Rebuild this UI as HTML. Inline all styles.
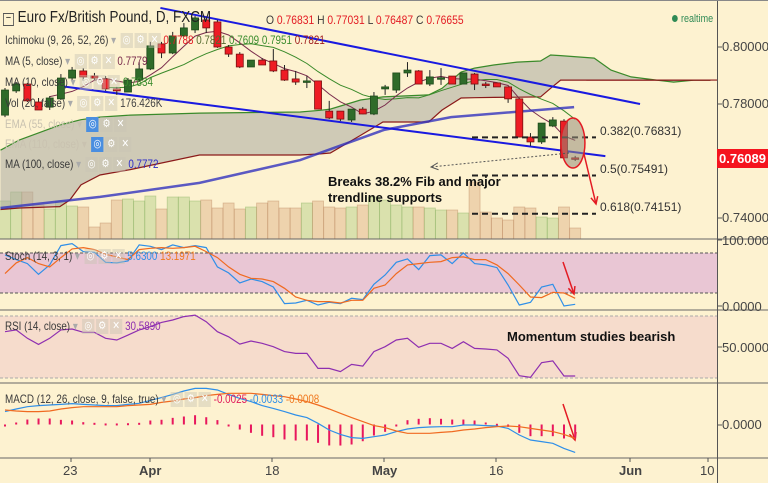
<!DOCTYPE html>
<html><head><meta charset="utf-8">
<style>
html,body{margin:0;padding:0;background:#fdf2d0;}
#wrap{position:relative;width:768px;height:483px;overflow:hidden;background:#fdf2d0;font-family:"Liberation Sans",sans-serif;}
svg{position:absolute;left:0;top:0;}
.lg{position:absolute;font-size:12px;color:#3a3a3a;white-space:nowrap;line-height:14px;transform:scaleX(0.82);transform-origin:0 0;}
.ic{display:inline-block;width:15px;height:15px;background:rgba(200,195,180,0.45);color:#fff;font-size:11px;text-align:center;line-height:15px;margin-left:2px;vertical-align:middle;}
.icb{background:#4a8ee0;}
.fade{color:#c9c2b0;}
.ax{position:absolute;font-size:13px;color:#444;}
.nt{transform:none;}
</style></head><body>
<div id="wrap">
<svg id="svg" width="768" height="483"></svg>

<div class="lg" style="left:3px;top:11px;font-size:16px;color:#222;transform:scaleX(0.84);"><span style="display:inline-block;width:11px;height:11px;border:1px solid #555;font-size:11px;line-height:9px;text-align:center;vertical-align:1px;">−</span> Euro Fx/British Pound, D, FXCM</div>
<div class="lg" style="left:266px;top:13px;font-size:12px;transform:scaleX(0.86);">O <span style="color:#e31b23">0.76831</span> H <span style="color:#e31b23">0.77031</span> L <span style="color:#e31b23">0.76487</span> C <span style="color:#e31b23">0.76655</span></div>
<div class="lg" style="left:672px;top:12px;font-size:11px;color:#2f8a55;"><span style="display:inline-block;width:7px;height:7px;border-radius:4px;background:#2f8a55;margin-right:4px;"></span>realtime</div>

<div class="lg" style="left:5px;top:33px;">Ichimoku (9, 26, 52, 26) <span style="color:#aaa">▾</span> <span class="ic">◎</span><span class="ic">⚙</span><span class="ic">✕</span> <span style="color:#e31b23">0.7788</span> <span style="color:#556b2f">0.7821</span> <span style="color:#3c8d2f">0.7609</span> <span style="color:#3c8d2f">0.7951</span> <span style="color:#a01c1c">0.7821</span></div>
<div class="lg" style="left:5px;top:54px;">MA (5, close) <span style="color:#aaa">▾</span> <span class="ic">◎</span><span class="ic">⚙</span><span class="ic">✕</span> <span style="color:#7a2c4c">0.7779</span></div>
<div class="lg" style="left:5px;top:75px;">MA (10, close) <span style="color:#aaa">▾</span> <span class="ic">◎</span><span class="ic">⚙</span><span class="ic">✕</span> <span style="color:#3c8d2f">0.7834</span></div>
<div class="lg" style="left:5px;top:96px;">Vol (20, false) <span style="color:#aaa">▾</span> <span class="ic">◎</span><span class="ic">⚙</span><span class="ic">✕</span> <span style="color:#444">176.426K</span></div>
<div class="lg fade" style="left:5px;top:117px;">EMA (55, close) ▾ <span class="ic icb">◎</span><span class="ic">⚙</span><span class="ic">✕</span></div>
<div class="lg fade" style="left:5px;top:137px;">EMA (110, close) ▾ <span class="ic icb">◎</span><span class="ic">⚙</span><span class="ic">✕</span></div>
<div class="lg" style="left:5px;top:157px;">MA (100, close) <span style="color:#aaa">▾</span> <span class="ic">◎</span><span class="ic">⚙</span><span class="ic">✕</span> <span style="color:#2b2bc8">0.7772</span></div>

<div class="lg" style="left:5px;top:249px;">Stoch (14, 3, 1) <span style="color:#aaa">▾</span> <span class="ic">◎</span><span class="ic">⚙</span><span class="ic">✕</span> <span style="color:#2f8fe8">5.6300</span> <span style="color:#f07a20">13.1971</span></div>
<div class="lg" style="left:5px;top:319px;">RSI (14, close) <span style="color:#aaa">▾</span> <span class="ic">◎</span><span class="ic">⚙</span><span class="ic">✕</span> <span style="color:#8e2fb0">30.5890</span></div>
<div class="lg" style="left:5px;top:392px;">MACD (12, 26, close, 9, false, true) <span style="color:#aaa">▾</span> <span class="ic">◎</span><span class="ic">⚙</span><span class="ic">✕</span> <span style="color:#e0195a">-0.0025</span> <span style="color:#2f8fe8">-0.0033</span> <span style="color:#f07a20">-0.0008</span></div>

<div class="lg nt" style="left:328px;top:174px;font-size:13px;font-weight:bold;color:#111;line-height:16px;">Breaks 38.2% Fib and major<br>trendline supports</div>
<div class="lg nt" style="left:507px;top:330px;font-size:13px;font-weight:bold;color:#111;">Momentum studies bearish</div>

<div class="lg nt" style="left:600px;top:124px;font-size:12px;color:#333;">0.382(0.76831)</div>
<div class="lg nt" style="left:600px;top:162px;font-size:12px;color:#333;">0.5(0.75491)</div>
<div class="lg nt" style="left:600px;top:200px;font-size:12px;color:#333;">0.618(0.74151)</div>

<div class="ax" style="left:722px;top:39px;">0.80000</div>
<div class="ax" style="left:722px;top:96px;">0.78000</div>
<div class="ax" style="left:722px;top:210px;">0.74000</div>
<div class="ax" style="left:717px;top:149px;width:51px;height:19px;background:#f5141e;color:#fff;font-weight:bold;line-height:19px;text-align:center;font-size:13px;">0.76089</div>
<div class="ax" style="left:722px;top:233px;">100.0000</div>
<div class="ax" style="left:722px;top:299px;">0.0000</div>
<div class="ax" style="left:722px;top:340px;">50.0000</div>
<div class="ax" style="left:722px;top:417px;">0.0000</div>

<div class="ax" style="left:63px;top:463px;">23</div>
<div class="ax" style="left:139px;top:463px;font-weight:bold;">Apr</div>
<div class="ax" style="left:265px;top:463px;">18</div>
<div class="ax" style="left:372px;top:463px;font-weight:bold;">May</div>
<div class="ax" style="left:489px;top:463px;">16</div>
<div class="ax" style="left:619px;top:463px;font-weight:bold;">Jun</div>
<div class="ax" style="left:700px;top:463px;">10</div>
</div>

<script>
// ---- data ----
const opens  = [.7761,.7846,.7870,.7807,.7789,.7818,.7891,.7916,.7898,.7888,.7853,.7842,.7884,.7923,.8011,.7979,.8039,.8060,.8095,.8088,.8000,.7975,.7930,.7954,.7951,.7919,.7888,.7877,.7881,.7775,.7775,.7744,.7782,.7765,.7853,.7849,.7909,.7916,.7870,.7891,.7898,.7870,.7905,.7870,.7874,.7860,.7818,.7684,.7667,.7723,.7740,.7611];
const highs  = [.7856,.7877,.7874,.7821,.7828,.7905,.7930,.7926,.7909,.7898,.7860,.7891,.7947,.8018,.8018,.8053,.8084,.8109,.8102,.8095,.8007,.7982,.7954,.7961,.7993,.7937,.7916,.7898,.7881,.7811,.7775,.7782,.7789,.7842,.7867,.7909,.7947,.7919,.7919,.7926,.7898,.7909,.7909,.7877,.7874,.7860,.7818,.7698,.7733,.7754,.7747,.7618];
const lows   = [.7754,.7839,.7807,.7779,.7779,.7814,.7884,.7881,.7884,.7846,.7832,.7842,.7881,.7919,.7961,.7975,.8035,.8049,.8049,.7997,.7965,.7926,.7930,.7937,.7912,.7881,.7867,.7856,.7782,.7747,.7740,.7737,.7765,.7761,.7832,.7839,.7895,.7870,.7863,.7867,.7870,.7870,.7849,.7856,.7860,.7804,.7684,.7653,.7660,.7719,.7607,.7600];
const closes = [.7849,.7870,.7811,.7779,.7821,.7891,.7919,.7895,.7891,.7853,.7846,.7884,.7923,.8004,.7979,.8039,.8067,.8102,.8067,.8000,.7975,.7930,.7954,.7937,.7916,.7884,.7877,.7881,.7782,.7751,.7747,.7782,.7765,.7828,.7860,.7909,.7919,.7870,.7895,.7892,.7870,.7909,.7870,.7867,.7860,.7818,.7684,.7667,.7733,.7744,.7611,.7607];
const volumes = [608,752,752,544,480,608,528,512,192,256,624,640,608,688,480,672,672,608,624,496,576,480,512,576,608,496,496,576,608,512,496,512,544,672,624,544,512,512,496,464,464,416,912,432,336,304,512,496,352,336,512,176];
const cloudIdx = [-0.4,1.3,4.9,5.8,6.8,8.5,11.2,17.4,26.4,28.2,29.1,31.8,33.8,37.9,39.1,40.8,42,43.7,45.8,47.9,48.8,49.7,52.7,54.2,56,58.3,59.8,61.6,63.1];
const spanA = [.7638,.7674,.7726,.7735,.7745,.7754,.7761,.7768,.7772,.7778,.7782,.7814,.7825,.7832,.7855,.7912,.7926,.7937,.7947,.7951,.7972,.7970,.7961,.7919,.7895,.7884,.7877,.7884,.7884];
const spanB = [.7430,.7435,.7440,.7463,.7516,.7551,.7570,.7621,.7621,.7625,.7628,.7690,.7737,.7737,.7779,.7821,.7822,.7823,.7824,.7825,.7855,.7884,.7884,.7884,.7884,.7884,.7884,.7884,.7884];
const ma100Idx = [-0.4,8.5,17.4,26.4,33.9,39.9,50.9];
const ma100 = [.7435,.7474,.7523,.7603,.7709,.7754,.7789];
const trendUpper = [[13.9,.8137],[56.8,.7800]];
const trendLower = [[4.9,.7863],[53.7,.7617]];
const fibLevels = [0.76831,0.75491,0.74151];
const stochK = [77,70,64,48,62,91,94,82,81,66,65,68,92,90,85,92,88,91,88,59,50,35,41,37,29,4,5,9,2,6,4,12,10,33,47,66,71,55,76,77,64,80,64,62,58,32,2,6,29,33,0.5,3];
const stochD = [49,65,73,64,59,73,86,88,85,78,74,70,85,87,88,87,88,90,82,73,59,48,42,41,37,27,14,9,7,7,5,9,9,27,32,49,62,64,66,67,73,74,70,70,62,49,32,14,13,21,20,12];
const rsi = [59.9,61,55.6,51.7,55.6,61,61.6,59.5,59.5,55.6,54.5,57.7,61,63.1,65.9,67.4,69.6,70.6,66.3,59.9,56.6,51.9,53.9,52.4,50.2,47,45.9,45.9,36.2,36.2,34.1,38.8,37.7,47,50.2,54.5,55.6,49.8,52.4,52.4,49.1,53.4,49.1,48.7,48.1,42.7,31.5,30.4,39.9,41,31.3,31.3];
const macdLine = [16.7,20,22.9,24.2,25,25.8,26.7,25.8,25,24.2,24.2,25.8,27.1,30.8,34.2,38.3,42.5,45.8,45.8,43.8,38.3,33.3,29.2,24.2,20.8,16.7,12.5,9.2,2.1,-6.2,-11.7,-15.8,-16.7,-14.6,-12.5,-8.3,-5,-3.3,-2.5,-2.1,-2.1,0,0,-0.8,-1.2,-4.2,-12.5,-18.8,-20.8,-22.9,-29.2,-34.2];
const signalLine = [18.8,17.5,16.7,16.7,17.5,20,21.7,22.9,22.9,22.9,22.9,24.2,25,25.8,28.3,30,32.5,34.2,36.7,38.3,39.6,39.6,39.6,38.3,36.7,35.4,32.5,29.2,25,20,14.6,9.2,4.2,-0.8,-3.3,-7.5,-10.4,-10.4,-10.4,-9.2,-8.3,-6.2,-5,-3.3,-2.1,-1.2,-2.1,-4.2,-6.2,-8.3,-11.7,-16.7];

// ---- scales ----
const xi = i => 5 + i*11.18;
const yp = p => 47 + (0.80 - p)*2850;
const ys = v => 306.3 - v*0.667;
const yr = v => 347 - (v-50)*1.55;
const ym = v => 425 - v*0.8;
const yh = v => 425 - v*0.8;
const yv = v => 239 - v/16;

const svg = document.getElementById('svg');
const NS = 'http://www.w3.org/2000/svg';
function el(tag, attrs, parent){
  const e = document.createElementNS(NS, tag);
  for (const k in attrs) e.setAttribute(k, attrs[k]);
  (parent||svg).appendChild(e);
  return e;
}
function pts(xs, ys_){ return xs.map((x,i)=>x.toFixed(1)+','+ys_[i].toFixed(1)).join(' '); }

let r;
r = el('rect',{x:0,y:253,width:717,height:40,fill:'#e9c6d4'});


r = el('rect',{x:0,y:316,width:717,height:62,fill:'#f6dccc'});


[[253,'#555'],[293,'#555'],[316,'#aaa'],[378,'#aaa']].forEach(d=>{
  const l = el('line',{x1:0,x2:717,y1:d[0],y2:d[0],stroke:d[1],'stroke-dasharray':'3,2','stroke-width':1});
  
  
});

volumes.forEach((v,i)=>{
  const up = closes[i] >= opens[i];
  const b = el('rect',{x:xi(i)-5.5,y:yv(v),width:11,height:239-yv(v),fill:up?'rgba(175,205,130,0.45)':'rgba(215,165,120,0.4)',stroke:up?'rgba(140,180,100,0.5)':'rgba(190,140,100,0.5)','stroke-width':0.8});
  
  
});

const cx = cloudIdx.map(xi);
const cloudPoly = cx.map((x,i)=>x.toFixed(1)+','+yp(spanA[i]).toFixed(1)).concat(cx.slice().reverse().map((x,j)=>{const i=cx.length-1-j;return x.toFixed(1)+','+yp(spanB[i]).toFixed(1);})).join(' ');
const cloud = el('polygon',{points:cloudPoly,fill:'rgba(170,170,160,0.55)'});


const sa = el('polyline',{points:pts(cx,spanA.map(yp)),fill:'none',stroke:'#3a8a2a','stroke-width':1.2});


const sb = el('polyline',{points:pts(cx,spanB.map(yp)),fill:'none',stroke:'#8b1a1a','stroke-width':1.2});


const kl = el('line',{x1:xi(52),x2:717,y1:yp(.7884),y2:yp(.7884),stroke:'#8b1a1a','stroke-width':1.2});



function sma(n){ const o=[]; closes.forEach((c,i)=>{ if(i>=n-1){ let s=0; for(let k=i-n+1;k<=i;k++) s+=closes[k]; o.push([i,s/n]); } }); return o; }
const m10 = sma(10);
const ma10l = el('polyline',{points:m10.map(d=>xi(d[0]).toFixed(1)+','+yp(d[1]).toFixed(1)).join(' '),fill:'none',stroke:'#3a8a2a','stroke-width':1});


const m5 = sma(5);
const ma5l = el('polyline',{points:m5.map(d=>xi(d[0]).toFixed(1)+','+yp(d[1]).toFixed(1)).join(' '),fill:'none',stroke:'#7a2c4c','stroke-width':1});


const ma100l = el('polyline',{points:pts(ma100Idx.map(xi),ma100.map(yp)),fill:'none',stroke:'rgba(50,50,190,0.8)','stroke-width':2.5});



[trendUpper,trendLower].forEach((t,k)=>{
  const l = el('line',{x1:xi(t[0][0]),y1:yp(t[0][1]),x2:xi(t[1][0]),y2:yp(t[1][1]),stroke:'#1a1ae0','stroke-width':2});
  
  
});

opens.forEach((o,i)=>{
  const c = closes[i], up = c>=o, x = xi(i);
  const w = el('line',{x1:x,x2:x,y1:yp(highs[i]),y2:yp(lows[i]),stroke:'#222','stroke-width':1});
  
  
  const top = yp(Math.max(o,c)), bot = yp(Math.min(o,c));
  const b = el('rect',{x:x-3.5,y:top,width:7,height:Math.max(1.5,bot-top),fill:up?'#2f6b2a':'#ee1c24',stroke:up?'#1d4a1a':'#7a1010','stroke-width':0.8});
  
  
});

fibLevels.forEach(f=>{
  const l = el('line',{x1:472,x2:596,y1:yp(f),y2:yp(f),stroke:'#222','stroke-width':2,'stroke-dasharray':'6,4'});
  
  
});

const ell = el('ellipse',{cx:xi(50.8),cy:143,rx:12,ry:25,fill:'rgba(150,140,120,0.55)',stroke:'#e31b23','stroke-width':1.5});



function arrow(x1,y1,x2,y2,color,w,dash,name){
  const l = el('line',{x1,y1,x2,y2,stroke:color,'stroke-width':w});
  if(dash) l.setAttribute('stroke-dasharray',dash);
  
  
  const a = Math.atan2(y2-y1,x2-x1), L=8;
  const h = el('polyline',{points:`${x2-L*Math.cos(a-0.45)},${y2-L*Math.sin(a-0.45)} ${x2},${y2} ${x2-L*Math.cos(a+0.45)},${y2-L*Math.sin(a+0.45)}`,fill:'none',stroke:color,'stroke-width':w});
  
  
}
arrow(569,153,431,167,'#555',1,'2,2','dotted-pointer-arrow');
arrow(584,154,596,204,'#e31b23',1.5,null,'price-target-arrow');
arrow(563,262,574,294,'#e31b23',1.5,null,'stoch-arrow');
arrow(563,404,575,440,'#e31b23',1.5,null,'macd-arrow');

const sk = el('polyline',{points:pts(stochK.map((v,i)=>xi(i)),stochK.map(ys)),fill:'none',stroke:'#2f8fe8','stroke-width':1.2});


const sd = el('polyline',{points:pts(stochD.map((v,i)=>xi(i)),stochD.map(ys)),fill:'none',stroke:'#f06a20','stroke-width':1.2});



const rl = el('polyline',{points:pts(rsi.map((v,i)=>xi(i)),rsi.map(yr)),fill:'none',stroke:'#8e2fb0','stroke-width':1.2});



macdLine.forEach((m,i)=>{
  const h = m - signalLine[i];
  const y = yh(h);
  const hb = el('rect',{x:xi(i)-1,y:Math.min(y,425)-0.5,width:2,height:Math.max(2,Math.abs(y-425)),fill:'#e8175d'});
  
  
});
const ml = el('polyline',{points:pts(macdLine.map((v,i)=>xi(i)),macdLine.map(ym)),fill:'none',stroke:'#2f8fe8','stroke-width':1.2});


const sl = el('polyline',{points:pts(signalLine.map((v,i)=>xi(i)),signalLine.map(ym)),fill:'none',stroke:'#f06a20','stroke-width':1.2});



[239,310,383,458].forEach(y=>{
  const l = el('line',{x1:0,x2:768,y1:y,y2:y,stroke:'#666','stroke-width':1});
  
  
});
const va = el('line',{x1:717.5,x2:717.5,y1:0,y2:483,stroke:'#555','stroke-width':1});


[47,104,161,218,240,306,347,425].forEach(y=>{
  const t = el('line',{x1:717,x2:722,y1:y,y2:y,stroke:'#555','stroke-width':1});
  
  
});
[71,150,272,384,496,630,708].forEach(x=>{
  const t = el('line',{x1:x,x2:x,y1:458,y2:462,stroke:'#555','stroke-width':1});
  
  
});
const topl = el('line',{x1:0,x2:768,y1:0.5,y2:0.5,stroke:'#888','stroke-width':1});


</script>
</body></html>
